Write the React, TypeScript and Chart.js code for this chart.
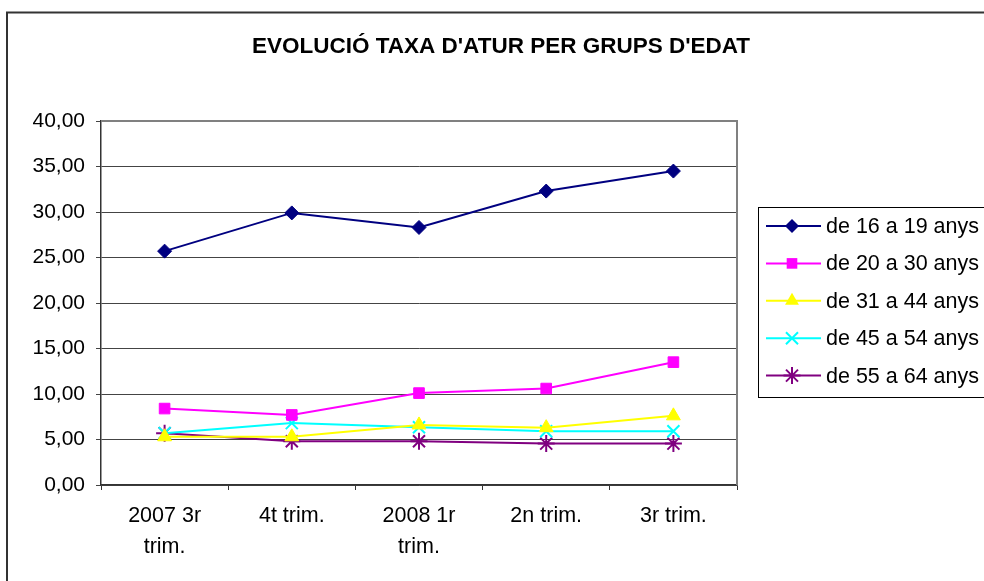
import React, { useEffect, useRef } from "react";
import { Chart, registerables } from "chart.js";

Chart.register(...registerables);

const TITLE = "EVOLUCIÓ TAXA D'ATUR PER GRUPS D'EDAT";
const categories: string[][] = [["2007 3r", "trim."], ["4t trim."], ["2008 1r", "trim."], ["2n trim."], ["3r trim."]];
const seriesNames = ["de 16 a 19 anys", "de 20 a 30 anys", "de 31 a 44 anys", "de 45 a 54 anys", "de 55 a 64 anys"];
const s16_19 = [25.7, 29.9, 28.3, 32.3, 34.5];
const s20_30 = [8.4, 7.7, 10.1, 10.6, 13.5];
const s31_44 = [5.3, 5.3, 6.6, 6.3, 7.6];
const s45_54 = [5.7, 6.8, 6.35, 5.9, 5.9];
const s55_64 = [5.7, 4.8, 4.8, 4.55, 4.55];
const colors = ["#000080", "#FF00FF", "#FFFF00", "#00FFFF", "#800080"];
const markers = ["rectRot", "rect", "triangle", "crossRot", "star"];
const markerRadius = [7, 7.5, 8, 8.5, 8.5];
const yTicks = { min: 0, max: 40, step: 5 };

const FONT = "'Liberation Sans', Arial, sans-serif";

function drawMarker(ctx: CanvasRenderingContext2D, style: string, r: number, x: number, y: number, color: string) {
  ctx.save();
  ctx.fillStyle = color;
  ctx.strokeStyle = color;
  ctx.lineWidth = 2;
  ctx.beginPath();
  if (style === "rectRot") {
    ctx.moveTo(x, y - r);
    ctx.lineTo(x + r, y);
    ctx.lineTo(x, y + r);
    ctx.lineTo(x - r, y);
    ctx.closePath();
    ctx.fill();
  } else if (style === "rect") {
    const h = Math.SQRT1_2 * r;
    ctx.rect(x - h, y - h, 2 * h, 2 * h);
    ctx.fill();
  } else if (style === "triangle") {
    ctx.moveTo(x - r * 0.87, y + r * 0.5);
    ctx.lineTo(x, y - r);
    ctx.lineTo(x + r * 0.87, y + r * 0.5);
    ctx.closePath();
    ctx.fill();
  } else {
    const d = Math.SQRT1_2 * r;
    ctx.moveTo(x - d, y - d);
    ctx.lineTo(x + d, y + d);
    ctx.moveTo(x - d, y + d);
    ctx.lineTo(x + d, y - d);
    if (style === "star") {
      ctx.moveTo(x, y - r);
      ctx.lineTo(x, y + r);
      ctx.moveTo(x - r, y);
      ctx.lineTo(x + r, y);
    }
    ctx.stroke();
  }
  ctx.restore();
}

const decorPlugin = {
  id: "decor",
  beforeDraw(chart: any) {
    const ctx = chart.ctx;
    ctx.save();
    ctx.fillStyle = "#ffffff";
    ctx.fillRect(0, 0, chart.width, chart.height);
    ctx.strokeStyle = "#333333";
    ctx.lineWidth = 2;
    ctx.strokeRect(7, 12.5, chart.width + 20, chart.height + 20);
    ctx.fillStyle = "#000";
    ctx.font = `bold 22.5px ${FONT}`;
    ctx.textAlign = "center";
    ctx.textBaseline = "middle";
    ctx.fillText(TITLE, 501, 47);
    ctx.restore();
  },
  afterDatasetsDraw(chart: any) {
    const ctx = chart.ctx;
    const a = chart.chartArea;
    ctx.save();
    ctx.strokeStyle = "#808080";
    ctx.lineWidth = 2;
    ctx.beginPath();
    ctx.moveTo(a.left, a.top);
    ctx.lineTo(a.right, a.top);
    ctx.lineTo(a.right, a.bottom);
    ctx.stroke();
    // legend
    const lx = 758, ly = 207, lh = 190;
    ctx.strokeStyle = "#000";
    ctx.lineWidth = 1;
    ctx.strokeRect(lx + 0.5, ly + 0.5, 300, lh);
    chart.data.datasets.forEach((ds: any, i: number) => {
      const y = 226 + i * 37.4;
      ctx.strokeStyle = ds.borderColor;
      ctx.lineWidth = 2;
      ctx.beginPath();
      ctx.moveTo(766, y);
      ctx.lineTo(821, y);
      ctx.stroke();
      drawMarker(ctx, ds.pointStyle, ds.pointRadius, 792, y, ds.borderColor);
      ctx.fillStyle = "#000";
      ctx.font = `21.5px ${FONT}`;
      ctx.textAlign = "left";
      ctx.textBaseline = "middle";
      ctx.fillText(ds.label, 826, y + 1);
    });
    ctx.restore();
  },
};

export default function App() {
  const ref = useRef<HTMLCanvasElement>(null);
  useEffect(() => {
    const data = [s16_19, s20_30, s31_44, s45_54, s55_64];
    const chart = new Chart(ref.current!, {
      type: "line",
      data: {
        labels: categories,
        datasets: data.map((d, i) => ({
          label: seriesNames[i],
          data: d,
          borderColor: colors[i],
          backgroundColor: colors[i],
          pointBackgroundColor: colors[i],
          pointBorderColor: colors[i],
          pointStyle: markers[i] as any,
          pointRadius: markerRadius[i],
          pointBorderWidth: i >= 3 ? 2 : 1,
          borderWidth: 2,
          tension: 0,
        })),
      },
      options: {
        animation: false,
        responsive: false,
        devicePixelRatio: 1,
        layout: { padding: { left: 0, right: 247, top: 121, bottom: 0 } },
        plugins: { legend: { display: false }, title: { display: false }, tooltip: { enabled: false } },
        scales: {
          x: {
            offset: true,
            afterFit: (s: any) => { s.height = 96; },
            grid: { offset: true, drawOnChartArea: false, drawTicks: true, tickLength: 5, color: "#333333", lineWidth: 1 },
            border: { color: "#333333", width: 1.5 },
            ticks: { color: "#000", font: { family: FONT, size: 21.5, lineHeight: 1.45 }, padding: 10, maxRotation: 0, autoSkip: false },
          },
          y: {
            min: yTicks.min,
            max: yTicks.max,
            afterFit: (s: any) => { s.width = 101; },
            grid: { color: "#444444", lineWidth: 1, drawTicks: true, tickLength: 5 },
            border: { color: "#333333", width: 1.5 },
            ticks: {
              stepSize: yTicks.step,
              color: "#000",
              padding: 11,
              font: { family: FONT, size: 21 },
              callback: (v: any) => Number(v).toFixed(2).replace(".", ","),
            },
          },
        },
      },
      plugins: [decorPlugin],
    });
    return () => chart.destroy();
  }, []);
  return (
    <div style={{ position: "fixed", left: 0, top: 0, width: 984, height: 581 }}>
      <canvas ref={ref} width={984} height={581} style={{ width: 984, height: 581, display: "block" }} />
    </div>
  );
}
